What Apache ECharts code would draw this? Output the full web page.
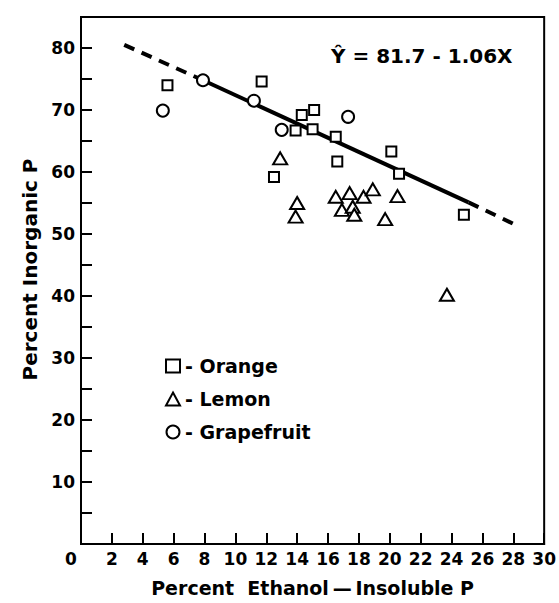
<!DOCTYPE html>
<html>
<head>
<meta charset="utf-8">
<script src="https://cdn.jsdelivr.net/npm/echarts@6/dist/echarts.min.js"></script>
<style>
  html, body { margin: 0; padding: 0; background: #fff; }
  #chart { width: 559px; height: 603px; }
</style>
</head>
<body>
<div id="chart"></div>
<script>
const orangeX = [5.6, 11.7, 14.3, 15.1, 13.9, 15.0, 16.5, 16.6, 12.5, 20.1, 20.6, 24.8]
const orangeY = [74.0, 74.6, 69.2, 70.0, 66.7, 66.9, 65.7, 61.7, 59.2, 63.3, 59.7, 53.1]

const lemonX = [12.9, 14.0, 13.9, 16.5, 17.4, 18.3, 18.9, 16.9, 17.6, 17.7, 20.5, 19.7, 23.7]
const lemonY = [62.2, 55.0, 52.8, 56.0, 56.6, 56.0, 57.2, 53.9, 54.4, 53.1, 56.1, 52.4, 40.2]

const grapefruitX = [5.3, 7.9, 11.2, 13.0, 17.3]
const grapefruitY = [69.9, 74.8, 71.5, 66.8, 68.9]

// fitted line as drawn: dashed ends, solid middle
const fitX = [2.8, 7.9, 25.1, 28.3]
const fitY = [80.5, 74.8, 55.1, 51.3]

const xTicks = [0, 30, 2]
const yTicks = [0, 85, 5]

const font = 'DejaVu Sans'

function pairs (xs, ys) {
  return xs.map((x, i) => [x, ys[i]])
}

const markStyle = { color: '#fff', borderColor: '#000', borderWidth: 2, opacity: 1 }

const chart = echarts.init(document.getElementById('chart'), null, { renderer: 'svg' })
chart.setOption({
  animation: false,
  backgroundColor: '#fff',
  grid: {
    left: 81, right: 13, top: 17, bottom: 59,
    show: true, borderColor: '#000', borderWidth: 2
  },
  xAxis: {
    type: 'value',
    min: xTicks[0], max: xTicks[1], interval: xTicks[2],
    splitLine: { show: false },
    axisLine: { lineStyle: { color: '#000', width: 2 } },
    axisTick: { inside: true, length: 11, lineStyle: { color: '#000', width: 2 } },
    axisLabel: {
      margin: 6,
      color: '#000', fontFamily: font, fontWeight: 'bold', fontSize: 17,
      formatter: v => v === 0 ? '{z|0}' : String(v),
      rich: { z: { padding: [0, 20, 0, 0], color: '#000', fontFamily: font, fontWeight: 'bold', fontSize: 17 } }
    },
    name: 'Percent  Ethanol\u2009\u2014\u2009Insoluble P',
    nameLocation: 'middle',
    nameGap: 34,
    nameTextStyle: { color: '#000', fontFamily: font, fontWeight: 'bold', fontSize: 19 }
  },
  yAxis: {
    type: 'value',
    min: yTicks[0], max: yTicks[1], interval: yTicks[2],
    splitLine: { show: false },
    axisLine: { lineStyle: { color: '#000', width: 2 } },
    axisTick: { inside: true, length: 11, lineStyle: { color: '#000', width: 2 } },
    axisLabel: {
      margin: 6,
      color: '#000', fontFamily: font, fontWeight: 'bold', fontSize: 17,
      formatter: v => (v > 0 && v % 10 === 0) ? String(v) : ''
    },
    name: 'Percent Inorganic P',
    nameLocation: 'middle',
    nameRotate: 90,
    nameGap: 37,
    nameTextStyle: { color: '#000', fontFamily: font, fontWeight: 'bold', fontSize: 20, padding: [0, 0, 0, 22] }
  },
  legend: {
    orient: 'vertical',
    left: 160,
    top: 351,
    itemWidth: 14,
    itemHeight: 13,
    itemGap: 13,
    formatter: name => '- ' + name,
    textStyle: { color: '#000', fontFamily: font, fontWeight: 'bold', fontSize: 19, lineHeight: 20 },
    itemStyle: markStyle,
    data: [
      { name: 'Orange', icon: 'rect' },
      { name: 'Lemon', icon: 'triangle' },
      { name: 'Grapefruit', icon: 'circle' }
    ]
  },
  graphic: [{
    type: 'text',
    left: 331,
    top: 46,
    style: { text: '\u0176 = 81.7 - 1.06X', fill: '#000', font: 'bold 20px "DejaVu Sans"' }
  }],
  series: [
    {
      type: 'line', z: 1, symbol: 'none', silent: true,
      data: pairs(fitX.slice(0, 2), fitY.slice(0, 2)),
      lineStyle: { color: '#000', width: 4, type: [11, 8] }
    },
    {
      type: 'line', z: 1, symbol: 'none', silent: true,
      data: pairs(fitX.slice(1, 3), fitY.slice(1, 3)),
      lineStyle: { color: '#000', width: 4 }
    },
    {
      type: 'line', z: 1, symbol: 'none', silent: true,
      data: pairs(fitX.slice(2, 4), fitY.slice(2, 4)),
      lineStyle: { color: '#000', width: 4, type: [11, 8] }
    },
    {
      name: 'Orange', type: 'scatter', z: 3, symbol: 'rect', symbolSize: 10,
      itemStyle: markStyle,
      data: pairs(orangeX, orangeY)
    },
    {
      name: 'Lemon', type: 'scatter', z: 3, symbol: 'triangle', symbolSize: [14, 12],
      itemStyle: markStyle,
      data: pairs(lemonX, lemonY)
    },
    {
      name: 'Grapefruit', type: 'scatter', z: 3, symbol: 'circle', symbolSize: 12,
      itemStyle: markStyle,
      data: pairs(grapefruitX, grapefruitY)
    }
  ]
})
</script>
</body>
</html>
